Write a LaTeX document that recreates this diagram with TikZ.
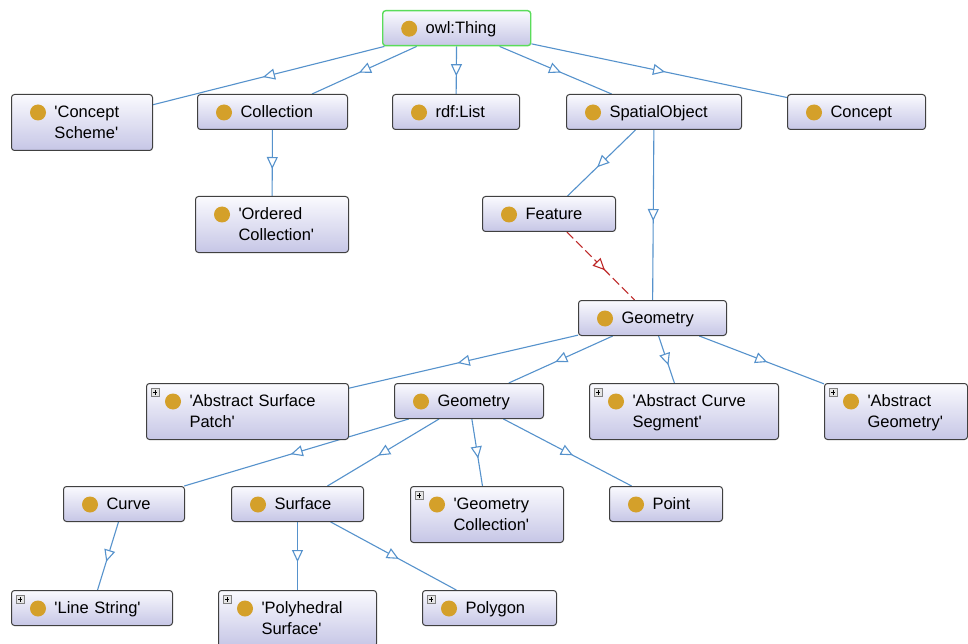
\documentclass[tikz,border=0pt]{standalone}
\usepackage{fontspec}
\newfontfamily\owlfont{Liberation Sans}
\usepackage{tikz}
\usetikzlibrary{arrows.meta,backgrounds,decorations.markings}

\definecolor{edgeblue}{RGB}{86,146,204}
\definecolor{subred}{RGB}{190,40,40}
\definecolor{boxtop}{RGB}{250,250,254}
\definecolor{boxbottom}{RGB}{198,198,230}
\definecolor{boxline}{RGB}{64,64,64}
\definecolor{thinggreen}{RGB}{90,220,90}
\definecolor{classdot}{RGB}{212,160,42}

\newcommand{\classdot}{\fill[classdot] ([shift={(26.5pt,-18pt)}]path picture bounding box.north west) circle (8pt);}
\newcommand{\expandbox}{%
  \draw[sharp corners,gray,fill=white!80!gray,line width=0.7pt] ([shift={(4.5pt,-5pt)}]path picture bounding box.north west) rectangle ++(8pt,-8pt);
  \draw[sharp corners,black,line width=0.9pt] ([shift={(6.3pt,-9pt)}]path picture bounding box.north west) -- ++(4.4pt,0pt)
    ([shift={(8.5pt,-6.8pt)}]path picture bounding box.north west) -- ++(0pt,-4.4pt);}

\tikzset{
  cls/.style={draw=boxline, line width=1pt, rounded corners=3pt, top color=boxtop, bottom color=boxbottom,
    anchor=north west, text width=#1, align=left, inner xsep=8pt, inner ysep=0pt,
    font=\owlfont\fontsize{16.5}{21}\selectfont,
    execute at begin node={\leftskip=35pt\rule{0pt}{23pt}},
    execute at end node={\rule[-12pt]{0pt}{12pt}},
    path picture={\classdot}},
  clsplus/.style={cls=#1, path picture={\classdot\expandbox}},
  root/.style={draw=thinggreen, line width=1.4pt},
  midtip/.style={postaction={decorate}, decoration={markings,
    mark=at position 0.5 with {\arrow[xshift=6pt]{Triangle[length=12pt,width=11pt,fill=white]}}}},
  isa/.style={draw=edgeblue, line width=1.1pt, midtip},
  rel/.style={draw=subred, line width=1.1pt, dash pattern=on 9pt off 4pt, midtip}
}

\begin{document}
\begin{tikzpicture}[x=1pt,y=-1pt]
\useasboundingbox (0,0) rectangle (968,644);

\node[cls=132,root] (thing) at (382,10) {owl:Thing};

\node[cls=125] (scheme) at (11,94) {'Concept\\Scheme'};
\node[cls=134] (collection) at (197,94) {Collection};
\node[cls=111] (rdflist) at (392,94) {rdf:List};
\node[cls=159] (spatial) at (566,94) {SpatialObject};
\node[cls=122] (concept) at (787,94) {Concept};

\node[cls=137] (ordered) at (195,196) {'Ordered\\Collection'};
\node[cls=117] (feature) at (482,196) {Feature};

\node[cls=132] (geometry) at (578,300) {Geometry};

\node[clsplus=186] (patch) at (146,383) {'Abstract Surface\\Patch'};
\node[cls=133] (geom) at (394,383) {Geometry};
\node[clsplus=173] (segment) at (589,383) {'Abstract Curve\\Segment'};
\node[clsplus=127] (abstract) at (824,383) {'Abstract\\Geometry'};

\node[cls=105] (curve) at (63,486) {Curve};
\node[cls=116] (surface) at (231,486) {Surface};
\node[clsplus=137] (geomcoll) at (410,486) {'Geometry\\Collection'};
\node[cls=97] (point) at (609,486) {Point};

\node[clsplus=145] (linestring) at (11,590) {'Line String'};
\node[clsplus=142] (polyhedral) at (218,590) {'Polyhedral\\Surface'};
\node[clsplus=118] (polygon) at (422,590) {Polygon};

\begin{scope}[on background layer]
\fill[white] (0,0) rectangle (968,644);
\draw[isa] (thing) -- (scheme);
\draw[isa] (thing) -- (collection);
\draw[isa] (thing) -- (rdflist);
\draw[isa] (thing) -- (spatial);
\draw[isa] (thing) -- (concept);
\draw[isa] (collection) -- (ordered);
\draw[isa] (spatial) -- (feature);
\draw[isa] (spatial) -- (geometry);
\draw[rel] (feature) -- (geometry);
\draw[isa] (geometry) -- (patch);
\draw[isa] (geometry) -- (geom);
\draw[isa] (geometry) -- (segment);
\draw[isa] (geometry) -- (abstract);
\draw[isa] (geom) -- (curve);
\draw[isa] (geom) -- (surface);
\draw[isa] (geom) -- (geomcoll);
\draw[isa] (geom) -- (point);
\draw[isa] (curve) -- (linestring);
\draw[isa] (surface) -- (polyhedral);
\draw[isa] (surface) -- (polygon);
\end{scope}
\end{tikzpicture}
\end{document}
